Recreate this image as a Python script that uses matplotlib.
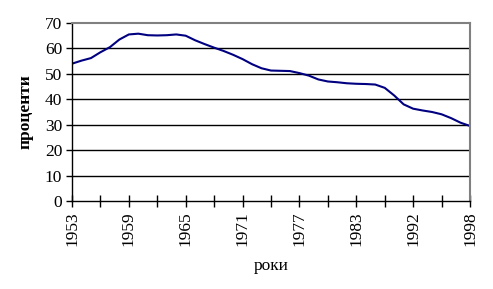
import matplotlib
matplotlib.use("Agg")
import matplotlib.pyplot as plt
from matplotlib.ticker import FixedLocator, MultipleLocator

# categories (year labels on a category axis)
years = list(range(1953, 1984)) + [1985, 1987, 1989, 1990, 1991, 1992] + list(range(1993, 1999))
values = [54.0, 55.2, 56.2, 58.5, 60.5, 63.5, 65.5, 65.8, 65.2, 65.1,
          65.2, 65.5, 65.0, 63.2, 61.7, 60.3, 59.0, 57.5, 55.8, 53.8,
          52.2, 51.3, 51.2, 51.1, 50.3, 49.3, 47.8, 47.0, 46.7, 46.3,
          46.1, 46.0, 45.8, 44.5, 41.5, 38.0, 36.3, 35.6, 35.0, 34.1,
          32.6, 30.8, 29.5]
shown_labels = [1953, 1959, 1965, 1971, 1977, 1983, 1992, 1998]
y_ticks = [0, 10, 20, 30, 40, 50, 60, 70]

plt.rcParams['font.family'] = ['Liberation Serif', 'DejaVu Serif']

fig = plt.figure(figsize=(4.93, 2.89), dpi=100)
ax = fig.add_axes([72/493, 1-201/289, (470-72)/493, (201-23)/289])

x = list(range(len(years)))
ax.plot(x, values, color='#000080', lw=1.5, solid_joinstyle='round')

ax.set_xlim(0, len(years)-1)
ax.set_ylim(0, 70)

label_pos = [years.index(y) for y in shown_labels]
ax.xaxis.set_major_locator(FixedLocator(label_pos))
ax.set_xticklabels([str(y) for y in shown_labels], rotation=90, fontsize=12.5)
ax.xaxis.set_minor_locator(MultipleLocator(3))
ax.tick_params(axis='x', which='both', direction='inout', length=9, width=1, color='black', pad=3)

ax.set_yticks(y_ticks)
ax.set_yticklabels([str(v) for v in y_ticks], fontsize=12.5)
ax.tick_params(axis='y', direction='out', length=4, width=1, pad=3)

for v in y_ticks[1:-1]:
    ax.axhline(v, color='black', lw=1, zorder=0)

for s in ['top', 'right']:
    ax.spines[s].set_color('#808080')
    ax.spines[s].set_linewidth(1.5)
for s in ['left', 'bottom']:
    ax.spines[s].set_color('black')
    ax.spines[s].set_linewidth(1)

fig.text(26/493, 1-112/289, 'проценти', rotation=90, fontsize=12.5, fontweight='bold',
         ha='center', va='center')
fig.text(271/493, 1-266/289, 'роки', fontsize=12.5, ha='center', va='center')

fig.savefig('out.png', dpi=100)
